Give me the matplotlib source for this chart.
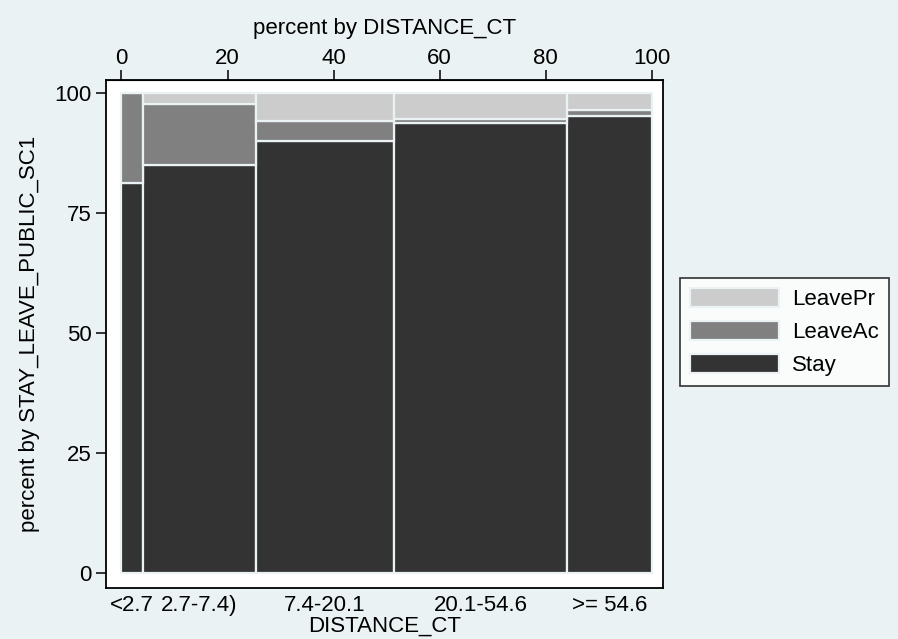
import matplotlib.pyplot as plt
import numpy as np

plt.rcParams['font.family'] = ['Liberation Sans', 'DejaVu Sans']

# categories of DISTANCE_CT and their share of observations (percent)
categories = ["<2.7", "2.7-7.4)", "7.4-20.1", "20.1-54.6", ">= 54.6"]
widths = [4.0, 21.4, 26.0, 32.6, 16.0]

# percent by STAY_LEAVE_PUBLIC_SC1 within each category
stay = [81.2, 85.1, 90.0, 93.8, 95.2]
leave_ac = [18.8, 12.5, 4.2, 0.7, 1.3]
leave_pr = [0.0, 2.4, 5.8, 5.5, 3.5]

series = [("Stay", stay, "#333333"),
          ("LeaveAc", leave_ac, "#808080"),
          ("LeavePr", leave_pr, "#CCCCCC")]

fs = 16
bg = "#EAF2F3"
fig = plt.figure(figsize=(8.98, 6.39), dpi=100, facecolor=bg)
ax = fig.add_axes([0.1175, 0.0798, 0.6208, 0.795])
ax.set_facecolor("white")

lefts = np.concatenate([[0], np.cumsum(widths)[:-1]])
bottom = np.zeros(len(widths))
handles = []
for name, vals, col in series:
    b = ax.bar(lefts, vals, width=widths, bottom=bottom, align="edge",
               color=col, edgecolor=bg, linewidth=1.6, label=name)
    handles.append(b)
    bottom += np.array(vals)

ax.set_xlim(-3.0, 102.1)
ax.set_ylim(-3.1, 102.7)
for s in ax.spines.values():
    s.set_linewidth(1.3)

ax.set_yticks([0, 25, 50, 75, 100])
ax.set_yticklabels(["0", "25", "50", "75", "100"], fontsize=fs)
ax.tick_params(axis="y", length=7, width=1.1, pad=3)
ax.set_ylabel("percent by STAY_LEAVE_PUBLIC_SC1", fontsize=fs, labelpad=10)

centers = lefts + np.array(widths) / 2
ax.set_xticks(centers)
ax.set_xticklabels(categories, fontsize=fs)
ax.tick_params(axis="x", length=0, pad=5)
ax.set_xlabel("DISTANCE_CT", fontsize=fs, labelpad=0)

top = ax.secondary_xaxis("top")
top.set_xticks([0, 20, 40, 60, 80, 100])
top.set_xticklabels(["0", "20", "40", "60", "80", "100"], fontsize=fs)
top.tick_params(length=7, width=1.1, pad=1)
top.set_xlabel("percent by DISTANCE_CT", fontsize=fs, labelpad=10)

leg = fig.legend(handles[::-1], ["LeavePr", "LeaveAc", "Stay"],
                 loc="center left", bbox_to_anchor=(0.757, 0.48),
                 fontsize=fs, frameon=True, fancybox=False,
                 handlelength=4.0, handleheight=0.9, handletextpad=0.6,
                 labelspacing=0.5, borderpad=0.45, borderaxespad=0,
                 edgecolor="black")
leg.get_frame().set_linewidth(1.2)
leg.get_frame().set_facecolor("white")

fig.savefig("out.png", dpi=100, facecolor=bg)
